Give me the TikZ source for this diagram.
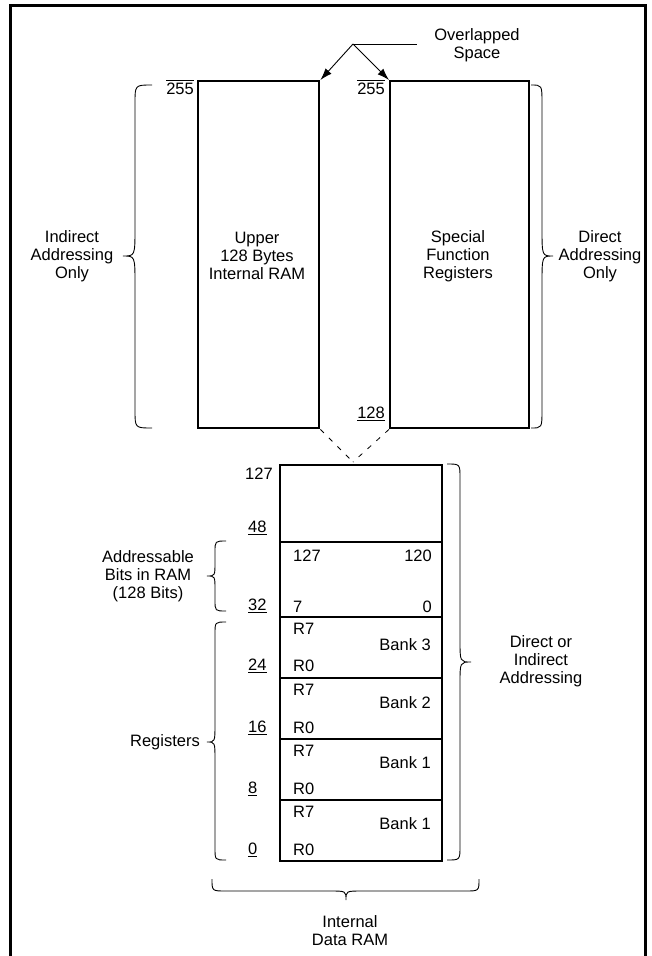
\documentclass[tikz,border=0pt]{standalone}
\usepackage{fontspec}
\setmainfont{Liberation Sans}
\usetikzlibrary{arrows.meta}
% vertical brace: xe xs xt y1 ym y2 r r2
\newcommand{\vbrc}[8]{%
  \draw[brc] (#1,#4) .. controls (#2,#4) .. (#2,#4+#7) -- (#2,#5-#8)
    .. controls (#2,#5) .. (#3,#5) .. controls (#2,#5) .. (#2,#5+#8)
    -- (#2,#6-#7) .. controls (#2,#6) .. (#1,#6);}
\begin{document}
\begin{tikzpicture}[x=1pt,y=-1pt,
  txt/.style={font=\fontsize{16.5}{18}\selectfont, align=center, inner sep=0pt},
  num/.style={font=\fontsize{16.5}{18}\selectfont, inner sep=0pt},
  blk/.style={draw, line width=2.4pt, inner sep=0pt, anchor=north west},
  brc/.style={line width=0.9pt},
  lead/.style={line width=0.9pt},
  oline/.style={line width=0.9pt},
  arr/.style={line width=0.9pt, -{Latex[length=12pt,width=8pt]}},
  dsh/.style={line width=0.8pt, dash pattern=on 5pt off 7pt}]
\useasboundingbox (0,0) rectangle (652,956);
% frame
\draw[line width=3pt] (10,956) -- (10,5) -- (645,5) -- (645,956);

% upper blocks
\node[blk, minimum width=121pt, minimum height=347pt] (upper) at (197,80) {};
\node[blk, minimum width=139pt, minimum height=347pt] (sfr) at (389,80) {};
\node[txt] (uppertxt) at (257,256) {Upper\\128 Bytes\\Internal RAM};
\node[txt] (sfrtxt) at (458,256) {Special\\Function\\Registers};
\node[num, anchor=east] (n255a) at (194,89) {255};
\node[num, anchor=east] (n255b) at (385,89) {255};
\draw[oline] ([yshift=2.5pt]n255a.north west) -- ([yshift=2.5pt]n255a.north east);
\draw[oline] ([yshift=2.5pt]n255b.north west) -- ([yshift=2.5pt]n255b.north east);
\node[num, anchor=east] (n128) at (385,414) {\underline{128}};

% overlapped space
\coordinate (fork) at (353,44);
\coordinate (leadend) at (417,44);
\node[txt] (ovl) at (477,45) {Overlapped\\Space};
\draw[lead] (fork) -- (leadend);
\draw[arr] (fork) -- (upper.north east);
\draw[arr] (fork) -- (sfr.north west);

% braces upper
\vbrc{152}{135}{123}{85}{256}{428}{18}{28}
\node[txt] (indir) at (72,256) {Indirect\\Addressing\\Only};
\vbrc{531}{542}{553}{85}{256}{428}{18}{28}
\node[txt] (dir) at (600,256) {Direct\\Addressing\\Only};

% lower block rows
\node[blk, minimum width=162pt, minimum height=77pt] (top) at (279,464) {};
\node[blk, minimum width=162pt, minimum height=75pt] (bits) at (279,541) {};
\node[blk, minimum width=162pt, minimum height=61pt] (b3) at (279,616) {};
\node[blk, minimum width=162pt, minimum height=61pt] (b2) at (279,677) {};
\node[blk, minimum width=162pt, minimum height=61pt] (b1a) at (279,738) {};
\node[blk, minimum width=162pt, minimum height=61pt] (b1b) at (279,799) {};

% dashed links
\coordinate (meet) at (353,462);
\draw[dsh] (upper.south east) -- (meet);
\draw[dsh] (sfr.south west) -- (meet);

% left numbers
\node[num, anchor=west] (l127) at (245,474) {127};
\node[num, anchor=west] (l48) at (248,528) {\underline{48}};
\node[num, anchor=west] (l32) at (248,606) {\underline{32}};
\node[num, anchor=west] (l24) at (248,666) {\underline{24}};
\node[num, anchor=west] (l16) at (248,728) {\underline{16}};
\node[num, anchor=west] (l8) at (248,789) {\underline{8}};
\node[num, anchor=west] (l0) at (248,850) {\underline{0}};

% bits row text
\node[num, anchor=west] (bit127) at (293,556) {127};
\node[num, anchor=east] (bit120) at (432,556) {120};
\node[num, anchor=west] (bit7) at (293,607) {7};
\node[num, anchor=east] (bit0) at (432,607) {0};

% bank rows text
\node[num, anchor=west] (r7a) at (293,629) {R7};
\node[num, anchor=east] (bk3) at (431,645) {Bank 3};
\node[num, anchor=west] (r0a) at (293,666) {R0};
\node[num, anchor=west] (r7b) at (293,690) {R7};
\node[num, anchor=east] (bk2) at (431,703) {Bank 2};
\node[num, anchor=west] (r0b) at (293,728) {R0};
\node[num, anchor=west] (r7c) at (293,751) {R7};
\node[num, anchor=east] (bk1a) at (431,763) {Bank 1};
\node[num, anchor=west] (r0c) at (293,789) {R0};
\node[num, anchor=west] (r7d) at (293,812) {R7};
\node[num, anchor=east] (bk1b) at (431,824) {Bank 1};
\node[num, anchor=west] (r0d) at (293,850) {R0};

% lower braces
\vbrc{226}{215}{207}{541}{576}{611}{11}{14}
\node[txt] (addr) at (148,576) {Addressable\\Bits in RAM\\(128 Bits)};
\vbrc{226}{215}{207}{622}{742}{860}{12}{18}
\node[txt] (regs) at (165,742) {Registers};
\vbrc{447}{460}{471}{464}{662}{860}{14}{22}
\node[txt] (dori) at (541,661) {Direct or\\Indirect\\Addressing};

% bottom brace
\draw[brc] (212,879) .. controls (212,891) .. (226,891) -- (330,891)
  .. controls (346,891) .. (346,900) .. controls (346,891) .. (362,891)
  -- (465,891) .. controls (479,891) .. (479,879);
\node[txt] (idr) at (350,931) {Internal\\Data RAM};
\end{tikzpicture}
\end{document}
